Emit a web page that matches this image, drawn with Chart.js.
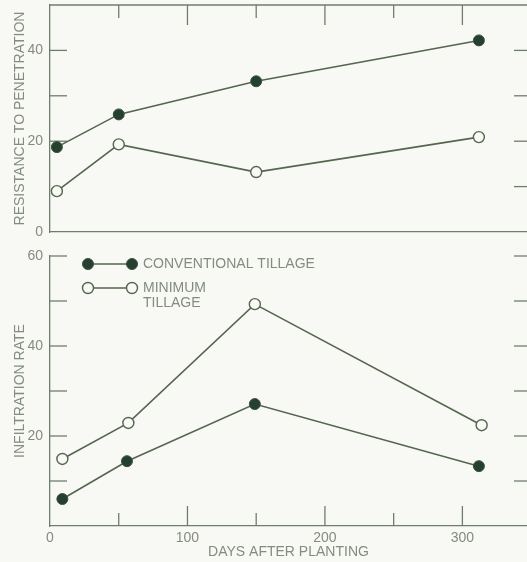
<!DOCTYPE html>
<html>
<head>
<meta charset="utf-8">
<script src="https://cdn.jsdelivr.net/npm/chart.js@4"></script>
<style>
  html, body { margin:0; padding:0; background:#f8f9f4; }
  #wrap { position:relative; width:527px; height:562px; overflow:hidden; background:#f8f9f4; }
  #c1 { position:absolute; left:0; top:0; }
  #c2 { position:absolute; left:0; top:240px; }
</style>
</head>
<body>
<div id="wrap">
  <canvas id="c1" width="527" height="240"></canvas>
  <canvas id="c2" width="527" height="322"></canvas>
</div>
<script>
// ---------- DATA ----------
const seriesNames = ['CONVENTIONAL TILLAGE', 'MINIMUM TILLAGE'];
// Top panel: resistance to penetration
const topConvDays = [5, 50, 150, 312];
const topConvValues = [18.7, 25.9, 33.2, 42.2];
const topMinDays = [5, 50, 150, 312];
const topMinValues = [9.0, 19.3, 13.2, 20.9];
// Bottom panel: infiltration rate
const botConvDays = [9, 56, 149, 312];
const botConvValues = [6.0, 14.4, 27.1, 13.3];
const botMinDays = [9, 57, 149, 314];
const botMinValues = [14.9, 22.9, 49.3, 22.4];
// Tick labels / tick marks
const xTickLabels = [0, 100, 200, 300];
const xMajorTicks = [100, 200, 300];
const xMinorTicks = [50, 150, 250];
const topYTickLabels = [0, 20, 40];
const topYInnerTicks = [20, 30, 40];
const topYRightTicks = [10, 20, 30, 40];
const botYTickLabels = [20, 40, 60];
const botYInnerTicks = [10, 20, 30, 40, 50, 60];
const botYRightTicks = [10, 20, 30, 40, 50, 60];
const topYTitle = 'RESISTANCE TO PENETRATION';
const botYTitle = 'INFILTRATION RATE';
const xTitle = 'DAYS AFTER PLANTING';

// ---------- STYLE ----------
const LINE = '#55654f';
const AXIS = '#6f7d6c';
const FILL = '#26402f';
const TEXT = '#838c80';
const BG = '#f8f9f4';
const FONT = "'Liberation Sans', Arial, sans-serif";

function pts(xs, ys) { return xs.map((x, i) => ({x: x, y: ys[i]})); }

function dsConv(xs, ys) {
  return { label: seriesNames[0], data: pts(xs, ys), borderColor: LINE, borderWidth: 1.6,
    pointRadius: 5.5, pointBackgroundColor: FILL, pointBorderColor: '#3a5040', pointBorderWidth: 1,
    tension: 0, fill: false, clip: false };
}
function dsMin(xs, ys) {
  return { label: seriesNames[1], data: pts(xs, ys), borderColor: LINE, borderWidth: 1.6,
    pointRadius: 5.5, pointBackgroundColor: BG, pointBorderColor: LINE, pointBorderWidth: 1.4,
    tension: 0, fill: false, clip: false };
}

function line(ctx, x1, y1, x2, y2) { ctx.beginPath(); ctx.moveTo(x1, y1); ctx.lineTo(x2, y2); ctx.stroke(); }

const tickPlugin = {
  id: 'ticks',
  beforeDatasetsDraw(chart, args, opts) {
    const ctx = chart.ctx, xs = chart.scales.x, ys = chart.scales.y, a = chart.chartArea;
    ctx.save();
    ctx.strokeStyle = AXIS; ctx.lineWidth = 1.3;
    if (opts.topBorder) line(ctx, a.left, a.top, a.right, a.top);
    const majLen = 20, minLen = 13;
    const edgeY = opts.xTicksAtTop ? a.top : a.bottom;
    const dir = opts.xTicksAtTop ? 1 : -1;
    xMajorTicks.forEach(v => { const px = xs.getPixelForValue(v); line(ctx, px, edgeY, px, edgeY + dir * majLen); });
    xMinorTicks.forEach(v => { const px = xs.getPixelForValue(v); line(ctx, px, edgeY, px, edgeY + dir * minLen); });
    opts.inner.forEach(v => { const py = ys.getPixelForValue(v); line(ctx, a.left, py, a.left + 17, py); });
    opts.right.forEach(v => { const py = ys.getPixelForValue(v); line(ctx, a.right - 13, py, a.right, py); });
    ctx.restore();
  }
};

const legendPlugin = {
  id: 'customLegend',
  afterDatasetsDraw(chart, args, opts) {
    if (!opts.show) return;
    const ctx = chart.ctx;
    ctx.save();
    ctx.strokeStyle = LINE; ctx.lineWidth = 1.6;
    const x1 = 88, x2 = 132, yA = 24, yB = 48;
    line(ctx, x1, yA, x2, yA);
    line(ctx, x1, yB, x2, yB);
    [x1, x2].forEach(x => {
      ctx.beginPath(); ctx.arc(x, yA, 5.5, 0, Math.PI * 2);
      ctx.fillStyle = FILL; ctx.fill(); ctx.lineWidth = 1; ctx.strokeStyle = '#3a5040'; ctx.stroke();
      ctx.beginPath(); ctx.arc(x, yB, 5.5, 0, Math.PI * 2);
      ctx.fillStyle = BG; ctx.fill(); ctx.lineWidth = 1.4; ctx.strokeStyle = LINE; ctx.stroke();
    });
    ctx.fillStyle = TEXT;
    ctx.font = '14px ' + FONT;
    ctx.textBaseline = 'middle';
    ctx.textAlign = 'left';
    ctx.fillText(seriesNames[0], 143, yA);
    const parts = seriesNames[1].split(' ');
    ctx.fillText(parts[0], 143, yB);
    ctx.fillText(parts[1], 143, yB + 15);
    ctx.restore();
  }
};

const tickFont = { family: FONT, size: 14 };

function makeChart(canvasId, datasets, cfg) {
  return new Chart(document.getElementById(canvasId), {
    type: 'line',
    data: { datasets: datasets },
    plugins: [tickPlugin, legendPlugin],
    options: {
      responsive: false,
      animation: false,
      layout: { autoPadding: false, padding: { top: cfg.padTop, right: 0, left: 0, bottom: 0 } },
      plugins: {
        legend: { display: false },
        tooltip: { enabled: false },
        ticks: cfg.ticks,
        customLegend: { show: cfg.legend }
      },
      scales: {
        x: {
          type: 'linear', min: 0, max: 347,
          afterBuildTicks: s => { s.ticks = xTickLabels.map(v => ({ value: v })); },
          afterFit: s => { s.height = cfg.xHeight; s.paddingLeft = 0; s.paddingRight = 0; },
          ticks: { display: cfg.xLabels, color: TEXT, font: tickFont, padding: 4, maxRotation: 0 },
          grid: { display: true, drawOnChartArea: false, drawTicks: false },
          border: { display: true, color: AXIS, width: 1.3 },
          title: { display: cfg.xLabels, text: xTitle, color: TEXT, font: tickFont, padding: { top: 0, bottom: 1 } }
        },
        y: {
          type: 'linear', min: cfg.yMin, max: cfg.yMax,
          afterBuildTicks: s => { s.ticks = cfg.yLabels.map(v => ({ value: v })); },
          afterFit: s => { s.width = 50; s.paddingTop = 0; s.paddingBottom = 0; },
          ticks: { color: TEXT, font: tickFont, padding: 7 },
          grid: { display: true, drawOnChartArea: false, drawTicks: false },
          border: { display: true, color: AXIS, width: 1.3 },
          title: { display: true, text: cfg.yTitle, color: TEXT, font: tickFont, padding: { top: 12, bottom: 0 } }
        }
      }
    }
  });
}

makeChart('c1', [dsConv(topConvDays, topConvValues), dsMin(topMinDays, topMinValues)], {
  padTop: 5, xHeight: 8, xLabels: false, yMin: 0, yMax: 50, yLabels: topYTickLabels, yTitle: topYTitle,
  legend: false,
  ticks: { topBorder: true, xTicksAtTop: true, inner: topYInnerTicks, right: topYRightTicks }
});

makeChart('c2', [dsConv(botConvDays, botConvValues), dsMin(botMinDays, botMinValues)], {
  padTop: 16, xHeight: 36, xLabels: true, yMin: 0, yMax: 60, yLabels: botYTickLabels, yTitle: botYTitle,
  legend: true,
  ticks: { topBorder: false, xTicksAtTop: false, inner: botYInnerTicks, right: botYRightTicks }
});
</script>
</body>
</html>
